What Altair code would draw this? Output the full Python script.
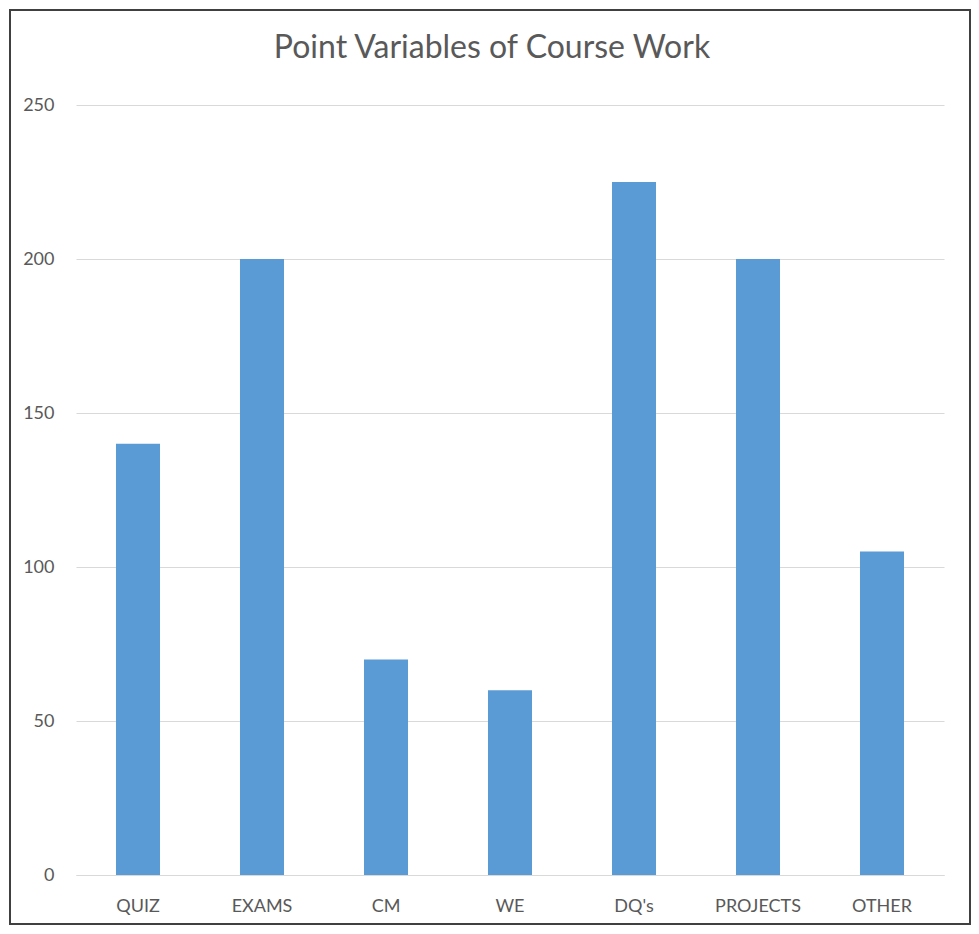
import altair as alt
import pandas as pd

categories = ["QUIZ", "EXAMS", "CM", "WE", "DQ's", "PROJECTS", "OTHER"]
points = [140, 200, 70, 60, 225, 200, 105]
y_ticks = [0, 50, 100, 150, 200, 250]

df = pd.DataFrame({"category": categories, "points": points})

W, H = 868, 770
TXT = "#595959"
FONT = "Lato"

bars = alt.Chart(df).mark_bar(color="#5B9BD5").encode(
    x=alt.X("category:N", sort=categories, title=None,
            scale=alt.Scale(paddingInner=0.645, paddingOuter=0.3225),
            axis=alt.Axis(labelAngle=0, ticks=False, domain=True, domainColor="#d9d9d9",
                          labelColor=TXT, labelFont=FONT, labelFontSize=18, labelPadding=22)),
    y=alt.Y("points:Q", title=None,
            scale=alt.Scale(domain=[0, 250], nice=False),
            axis=alt.Axis(values=y_ticks, ticks=False, domain=False, grid=True,
                          gridColor="#d9d9d9", gridWidth=1.2,
                          labelColor=TXT, labelFont=FONT, labelFontSize=18, labelPadding=22)),
)

border = alt.Chart(df).mark_rect(filled=False, stroke="#404040", strokeWidth=2).encode(
    x=alt.value(-66), x2=alt.value(W + 26),
    y=alt.value(-95), y2=alt.value(H + 49),
)

chart = alt.layer(bars, border).properties(
    width=W, height=H,
    background="white",
    title=alt.Title("Point Variables of Course Work", font=FONT, fontSize=32,
                    fontWeight="normal", color=TXT, anchor="middle", frame="group",
                    offset=-56, dx=-18),
    autosize=alt.AutoSizeParams(type="none"),
    padding={"left": 68, "top": 97, "right": 27, "bottom": 51},
).configure_view(strokeWidth=0, stroke="transparent")

chart.save("out.html", embed_options={"renderer": "svg", "actions": False})
